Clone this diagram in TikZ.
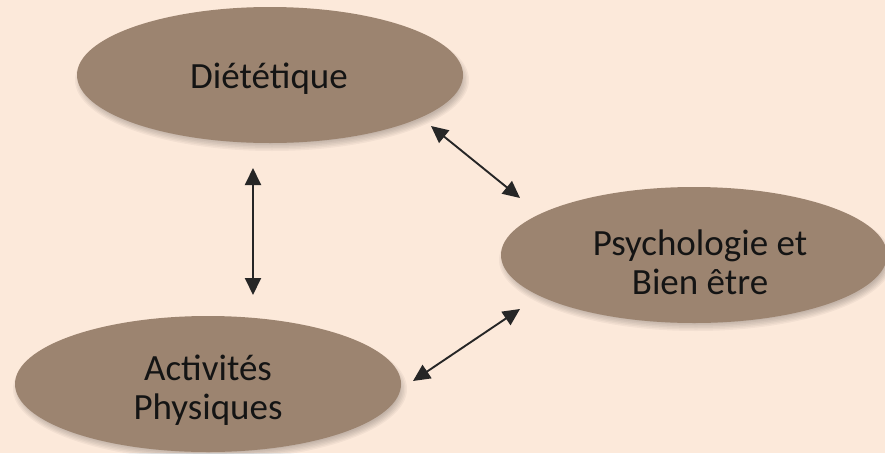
\documentclass[tikz,border=0pt]{standalone}
\usepackage{fontspec}
\setmainfont{Carlito}
\usetikzlibrary{shapes.geometric,arrows.meta,calc}
\definecolor{bgcol}{HTML}{FCE9DA}
\definecolor{blobcol}{HTML}{9C8470}
\definecolor{txtcol}{HTML}{141414}
\tikzset{
  blob/.style={ellipse, fill=blobcol, inner sep=0pt, minimum width=386pt, minimum height=136pt},
  lbl/.style={text=txtcol, font=\fontsize{37}{39}\selectfont, align=center, inner sep=0pt},
  link/.style={{Triangle[length=17pt,width=16pt]}-{Triangle[length=17pt,width=16pt]}, line width=1.9pt, draw=black!85, fill=black}
}
\newcommand{\softshadow}[1]{%
  \foreach \k in {0,1.5,...,7.5}{%
    \fill[black, opacity=0.04] ($(#1)+(2,5)$) ellipse ({193+4-\k} and {68+3-\k});
  }}
\begin{document}
\begin{tikzpicture}[x=1pt,y=-1pt]
\fill[bgcol] (0,0) rectangle (885,453);
\useasboundingbox (0,0) rectangle (885,453);
\coordinate (dc) at (270,75);
\coordinate (pc) at (694,255);
\coordinate (ac) at (208,384);
\softshadow{dc}
\softshadow{pc}
\softshadow{ac}
\node[blob] (d) at (dc) {};
\node[blob] (p) at (pc) {};
\node[blob] (a) at (ac) {};
\node[lbl] (dt) at (269,79) {Diététique};
\node[lbl] (pt) at (700,262) {Psychologie et\\Bien être};
\node[lbl] (at) at (208,390) {Activités\\Physiques};
\coordinate (v1) at (253,168);
\coordinate (v2) at (253,295);
\coordinate (r1) at (431,126);
\coordinate (r2) at (520,198);
\coordinate (s1) at (520,309);
\coordinate (s2) at (413,381);
\draw[link] (v1) -- (v2);
\draw[link] (r1) -- (r2);
\draw[link] (s1) -- (s2);
\end{tikzpicture}
\end{document}
